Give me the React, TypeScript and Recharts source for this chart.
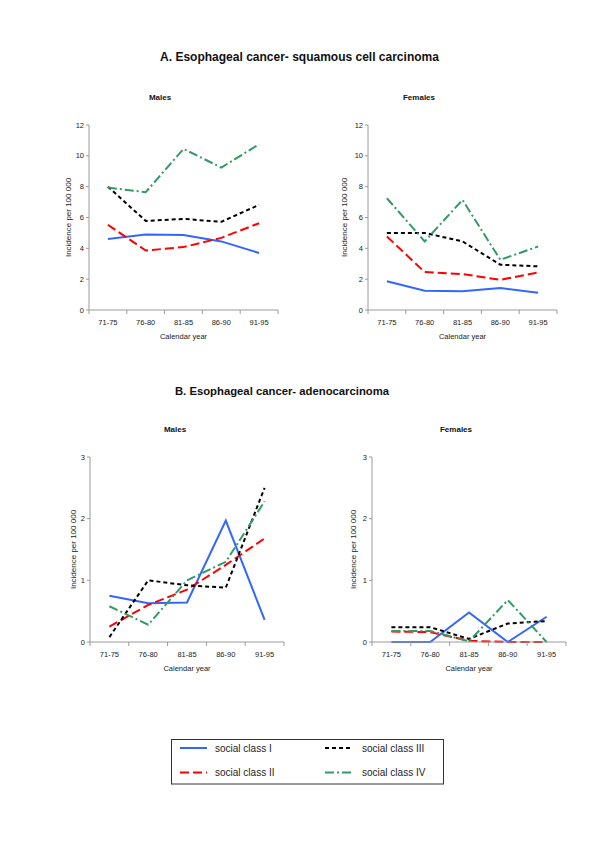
import React from "react";
import { LineChart, Line, XAxis, YAxis } from "recharts";

const years = ["71-75", "76-80", "81-85", "86-90", "91-95"];
const classNames = ["social class I", "social class II", "social class III", "social class IV"];

// A. squamous cell carcinoma
const scMalesI = [4.6, 4.9, 4.86, 4.45, 3.7];
const scMalesII = [5.53, 3.86, 4.08, 4.68, 5.63];
const scMalesIII = [8.0, 5.78, 5.91, 5.72, 6.82];
const scMalesIV = [7.94, 7.64, 10.45, 9.24, 10.75];

const scFemalesI = [1.86, 1.25, 1.21, 1.42, 1.12];
const scFemalesII = [4.77, 2.46, 2.33, 1.96, 2.44];
const scFemalesIII = [5.0, 5.0, 4.45, 2.94, 2.83];
const scFemalesIV = [7.25, 4.45, 7.14, 3.26, 4.12];

// B. adenocarcinoma
const adMalesI = [0.75, 0.63, 0.64, 1.97, 0.36];
const adMalesII = [0.25, 0.6, 0.85, 1.25, 1.68];
const adMalesIII = [0.08, 1.0, 0.92, 0.88, 2.5];
const adMalesIV = [0.58, 0.28, 1.0, 1.3, 2.28];

const adFemalesI = [0, 0, 0.48, 0, 0.41];
const adFemalesII = [0.17, 0.16, 0.02, 0, 0];
const adFemalesIII = [0.24, 0.24, 0.05, 0.3, 0.34];
const adFemalesIV = [0.18, 0.18, 0.01, 0.68, 0];

const ticksA = [0, 2, 4, 6, 8, 10, 12];
const ticksB = [0, 1, 2, 3];

const keys = ["c1", "c2", "c3", "c4"];
const lineStyles = [
  { color: "#3366FF", dash: undefined as string | undefined },
  { color: "#FF0000", dash: "9 4" },
  { color: "#000000", dash: "4 3" },
  { color: "#339966", dash: "9 3 2 3" },
];

const makeRows = (s: number[][]) =>
  years.map((year, i) => ({ year, c1: s[0][i], c2: s[1][i], c3: s[2][i], c4: s[3][i] }));

const PLOT_H = 185;
const AXIS = "#9a9a9a";
const TEXT = "#222";

function YearTick(props: any) {
  const { x, y, payload, index, band } = props;
  return (
    <g>
      <line x1={x - band / 2} y1={y} x2={x - band / 2} y2={y + 4} stroke={AXIS} />
      {index === years.length - 1 && (
        <line x1={x + band / 2} y1={y} x2={x + band / 2} y2={y + 4} stroke={AXIS} />
      )}
      <text x={x} y={y + 14.5} textAnchor="middle" fontSize={7.5} fill={TEXT}>
        {payload.value}
      </text>
    </g>
  );
}

function Panel(props: {
  series: number[][];
  ticks: number[];
  left: number;
  top: number;
  pw: number;
  labelOffset: number;
}) {
  const { series, ticks, left, top, pw, labelOffset } = props;
  const rows = makeRows(series);
  const band = pw / years.length;
  return (
    <div style={{ position: "absolute", left, top }}>
      <LineChart
        width={40 + pw + 10}
        height={10 + PLOT_H + 40}
        data={rows}
        margin={{ top: 10, right: 10, bottom: 0, left: 0 }}
      >
        <XAxis
          dataKey="year"
          height={40}
          stroke={AXIS}
          tickLine={false}
          tickSize={0}
          tickMargin={0}
          interval={0}
          padding={{ left: band / 2, right: band / 2 }}
          tick={(p: any) => <YearTick {...p} band={band} />}
          label={{
            value: "Calendar year",
            position: "insideBottom",
            offset: 11,
            style: { fontSize: 7.5, fill: TEXT },
          }}
        />
        <YAxis
          width={40}
          domain={[ticks[0], ticks[ticks.length - 1]]}
          ticks={ticks}
          interval={0}
          stroke={AXIS}
          tickSize={3}
          tick={{ fontSize: 7.5, fill: TEXT }}
          label={{
            value: "Incidence per 100 000",
            angle: -90,
            position: "insideLeft",
            offset: labelOffset,
            style: { textAnchor: "middle", fontSize: 8, fill: TEXT },
          }}
        />
        {keys.map((k, i) => (
          <Line
            key={k}
            type="linear"
            dataKey={k}
            name={classNames[i]}
            stroke={lineStyles[i].color}
            strokeDasharray={lineStyles[i].dash}
            strokeWidth={2}
            dot={false}
            activeDot={false}
            isAnimationActive={false}
          />
        ))}
      </LineChart>
    </div>
  );
}

export default function App() {
  const legendCols = [
    { lx: 180, tx: 215 },
    { lx: 325, tx: 362 },
  ];
  const legendRows = [748, 772.5];
  // legend layout: I, III in the first row / II, IV in the second
  const legendPos = [
    { col: 0, row: 0 },
    { col: 0, row: 1 },
    { col: 1, row: 0 },
    { col: 1, row: 1 },
  ];
  return (
    <div
      style={{
        position: "absolute",
        left: 0,
        top: 0,
        width: 600,
        height: 849,
        background: "#fff",
        fontFamily: '"Liberation Sans", Arial, sans-serif',
      }}
    >
      <svg width={600} height={849} style={{ position: "absolute", left: 0, top: 0 }}>
        <text x={299.5} y={61} textAnchor="middle" fontSize={12} fontWeight="bold" fill="#111">
          A. Esophageal cancer- squamous cell carcinoma
        </text>
        <text x={160} y={99.5} textAnchor="middle" fontSize={8} fontWeight="bold" fill="#111">
          Males
        </text>
        <text x={419} y={99.5} textAnchor="middle" fontSize={8} fontWeight="bold" fill="#111">
          Females
        </text>
        <text x={282} y={395} textAnchor="middle" fontSize={11.3} fontWeight="bold" fill="#111">
          B. Esophageal cancer- adenocarcinoma
        </text>
        <text x={175} y={432} textAnchor="middle" fontSize={8} fontWeight="bold" fill="#111">
          Males
        </text>
        <text x={456} y={432} textAnchor="middle" fontSize={8} fontWeight="bold" fill="#111">
          Females
        </text>

        <rect x={171.5} y={739.5} width={272} height={44.5} fill="none" stroke="#333" strokeWidth={1} />
        {classNames.map((name, i) => {
          const c = legendCols[legendPos[i].col];
          const y = legendRows[legendPos[i].row];
          return (
            <g key={name}>
              <line
                x1={c.lx}
                y1={y}
                x2={c.lx + 27}
                y2={y}
                stroke={lineStyles[i].color}
                strokeWidth={2}
                strokeDasharray={lineStyles[i].dash}
              />
              <text x={c.tx} y={y + 3.5} fontSize={10} fill={TEXT}>
                {name}
              </text>
            </g>
          );
        })}
      </svg>

      <Panel
        series={[scMalesI, scMalesII, scMalesIII, scMalesIV]}
        ticks={ticksA}
        left={49}
        top={115}
        pw={189}
        labelOffset={19}
      />
      <Panel
        series={[scFemalesI, scFemalesII, scFemalesIII, scFemalesIV]}
        ticks={ticksA}
        left={328}
        top={115}
        pw={189}
        labelOffset={16}
      />
      <Panel
        series={[adMalesI, adMalesII, adMalesIII, adMalesIV]}
        ticks={ticksB}
        left={50}
        top={447}
        pw={194}
        labelOffset={23}
      />
      <Panel
        series={[adFemalesI, adFemalesII, adFemalesIII, adFemalesIV]}
        ticks={ticksB}
        left={332}
        top={447}
        pw={194}
        labelOffset={21}
      />
    </div>
  );
}
